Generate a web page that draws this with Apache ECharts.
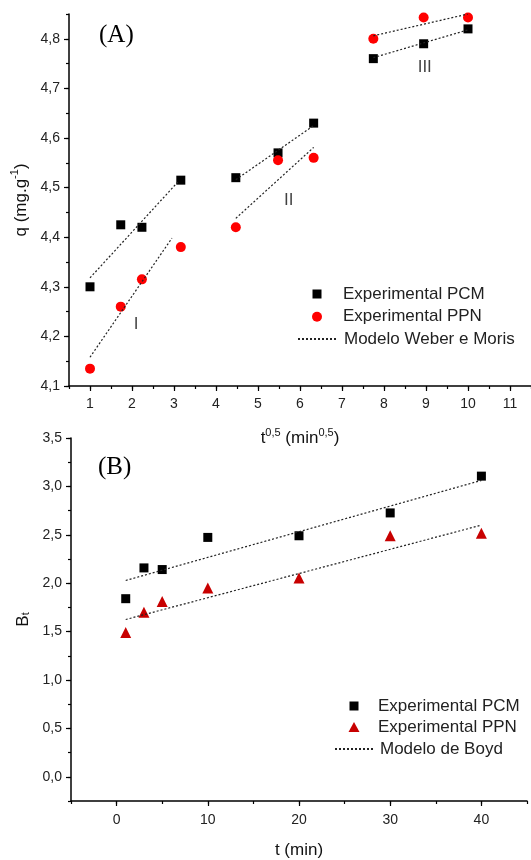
<!DOCTYPE html>
<html lang="pt">
    <head>
        <meta charset="utf-8" />
        <title>Cinética de adsorção</title>
        <script src="https://cdn.jsdelivr.net/npm/echarts@6/dist/echarts.min.js"></script>
        <style>
            body { margin: 0; background: #fff; }
            .chart { position: absolute; left: 0; top: 0; width: 531px; height: 860px; }
        </style>
    </head>
    <body>
    <div id="chartA" class="chart"></div>
    <div id="chartB" class="chart"></div>
    <script type="text/javascript">
        // (A) Weber e Moris: q vs t^0,5
        const sqrtT = [1, 1.732, 2.236, 3.162, 4.472, 5.477, 6.325, 7.746, 8.944, 10];
        const qPCM = [4.30, 4.425, 4.42, 4.515, 4.52, 4.57, 4.63, 4.76, 4.79, 4.82];
        const qPPN = [4.135, 4.26, 4.315, 4.38, 4.42, 4.555, 4.56, 4.80, 4.843, 4.843];
        // trechos lineares (I, II, III)
        const wmPCM = [[[1, 4.318], [3.1, 4.512]], [[4.472, 4.516], [6.325, 4.625]], [[7.746, 4.762], [10, 4.818]]];
        const wmPPN = [[[1, 4.158], [2.95, 4.398]], [[4.472, 4.438], [6.325, 4.581]], [[7.746, 4.806], [10, 4.85]]];
        const stageNames = ['I', 'II', 'III'];
        const stageX = [2.1, 5.73, 8.97];
        const stageY = [4.225, 4.474, 4.743];
        const xTicksA = [1, 2, 3, 4, 5, 6, 7, 8, 9, 10, 11];
        const yTicksA = [4.1, 4.2, 4.3, 4.4, 4.5, 4.6, 4.7, 4.8];

        // (B) Boyd: Bt vs t
        const tMin = [1, 3, 5, 10, 20, 30, 40];
        const btPCM = [1.84, 2.158, 2.141, 2.473, 2.49, 2.726, 3.106];
        const btPPN = [1.49, 1.70, 1.81, 1.95, 2.055, 2.49, 2.515];
        const boydPCM = [[1, 2.028], [40, 3.062]];
        const boydPPN = [[1, 1.625], [40, 2.60]];
        const xTicksB = [0, 10, 20, 30, 40];
        const yTicksB = [0, 0.5, 1, 1.5, 2, 2.5, 3, 3.5];

        const FONT = "'Liberation Sans', Arial, sans-serif";
        const comma1 = function (v) { return v.toFixed(1).replace('.', ','); };
        const nameRich = {
            n: {fontSize: 17, lineHeight: 20, verticalAlign: 'bottom', fontFamily: FONT, color: '#111'},
            sup: {fontSize: 11, lineHeight: 11, verticalAlign: 'top', fontFamily: FONT, color: '#111'},
            sub: {fontSize: 11, lineHeight: 11, verticalAlign: 'bottom', fontFamily: FONT, color: '#111'}
        };

        // eixo principal (ticks menores) + eixo sobreposto (ticks maiores)
        function axisPair(pos, min, max, interval, majors, fmt, extra) {
            const label = Object.assign({
                customValues: majors, formatter: fmt, fontSize: 14, color: '#222', fontFamily: FONT
            }, extra.axisLabel || {});
            const main = Object.assign({
                type: 'value', position: pos, min: min, max: max, interval: interval,
                axisLine: {onZero: false, lineStyle: {color: '#000', width: 1.5}},
                axisTick: {length: 3, lineStyle: {color: '#000', width: 1.2}},
                splitLine: {show: false}
            }, extra);
            main.axisLabel = label;
            const over = {
                type: 'value', position: pos, min: min, max: max,
                axisLine: {show: false, onZero: false},
                axisTick: {customValues: majors, length: 5, lineStyle: {color: '#000', width: 1.2}},
                axisLabel: {show: false},
                splitLine: {show: false}
            };
            return [main, over];
        }

        function fitSeries(name, segs) {
            return segs.map(function (seg) {
                return {
                    type: 'line', name: name, data: seg, symbol: 'circle', showSymbol: false, silent: true,
                    itemStyle: {color: 'transparent', borderWidth: 0},
                    lineStyle: {type: [2, 2], width: 1.2, color: '#222'}
                };
            });
        }

        // uma legenda por item, para posicionar cada linha
        function legendItem(name, left, top, w, h, pad) {
            return {
                orient: 'vertical', left: left, top: top, padding: 0,
                itemWidth: w, itemHeight: h,
                textStyle: {fontSize: 17, color: '#222', fontFamily: FONT, padding: [0, 0, 0, pad]},
                data: [name]
            };
        }

        // ---------- (A) ----------
        const chartA = echarts.init(document.getElementById('chartA'));
        const seriesA = [].concat(
            fitSeries('Modelo Weber e Moris', wmPCM),
            fitSeries('Modelo Weber e Moris', wmPPN),
            [{
                type: 'scatter', name: 'Experimental PCM', symbol: 'rect', symbolSize: 9,
                itemStyle: {color: '#000', opacity: 1},
                data: sqrtT.map(function (x, i) { return [x, qPCM[i]]; })
            }, {
                type: 'scatter', name: 'Experimental PPN', symbol: 'circle', symbolSize: 10,
                itemStyle: {color: '#ff0000', opacity: 1},
                data: sqrtT.map(function (x, i) { return [x, qPPN[i]]; })
            }, {
                type: 'scatter', name: 'etapas', symbolSize: 1, silent: true,
                itemStyle: {color: 'transparent'},
                label: {show: true, position: 'inside', formatter: '{b}', fontSize: 17, color: '#111', fontFamily: FONT},
                data: stageNames.map(function (n, i) { return {name: n, value: [stageX[i], stageY[i]]}; })
            }]
        );
        chartA.setOption({
            animation: false,
            title: {
                text: '(A)', left: 99, top: 23, padding: 0,
                textStyle: {fontFamily: "'Liberation Serif', 'Times New Roman', serif", fontSize: 25, fontWeight: 'normal', color: '#000'}
            },
            grid: {left: 69, right: 0, top: 14, height: 372},
            legend: [
                legendItem('Experimental PCM', 312.5, 285.5, 9, 9, 16.5),
                legendItem('Experimental PPN', 312, 308.2, 10, 10, 16),
                legendItem('Modelo Weber e Moris', 297, 330.5, 40, 9, 1)
            ],
            xAxis: axisPair('bottom', 0.5, 11.5, 0.5, xTicksA, function (v) { return String(v); }, {
                name: '{n|t}{sup|0,5}{n| (min}{sup|0,5}{n|)}', nameLocation: 'middle', nameGap: 41,
                nameTextStyle: {rich: nameRich},
                axisLabel: {margin: 11}
            }),
            yAxis: axisPair('left', 4.1, 4.85, 0.05, yTicksA, comma1, {
                name: '{n|q (mg.g}{sup|-1}{n|)}', nameLocation: 'middle', nameGap: 33,
                nameTextStyle: {rich: nameRich},
                axisLabel: {margin: 9}
            }),
            series: seriesA
        });

        // ---------- (B) ----------
        const chartB = echarts.init(document.getElementById('chartB'));
        const seriesB = [].concat(
            fitSeries('Modelo de Boyd', [boydPCM]),
            fitSeries('Modelo de Boyd', [boydPPN]),
            [{
                type: 'scatter', name: 'Experimental PCM', symbol: 'rect', symbolSize: 9,
                itemStyle: {color: '#000', opacity: 1},
                data: tMin.map(function (t, i) { return [t, btPCM[i]]; })
            }, {
                type: 'scatter', name: 'Experimental PPN', symbol: 'triangle', symbolSize: 11,
                itemStyle: {color: '#c80000', opacity: 1},
                data: tMin.map(function (t, i) { return [t, btPPN[i]]; })
            }]
        );
        chartB.setOption({
            animation: false,
            title: {
                text: '(B)', left: 98, top: 455, padding: 0,
                textStyle: {fontFamily: "'Liberation Serif', 'Times New Roman', serif", fontSize: 25, fontWeight: 'normal', color: '#000'}
            },
            grid: {left: 71, right: 4, top: 438, bottom: 56},
            legend: [
                legendItem('Experimental PCM', 349.5, 697.5, 9, 9, 14.5),
                legendItem('Experimental PPN', 348.5, 718.5, 11, 10, 13.5),
                legendItem('Modelo de Boyd', 334, 740.5, 40, 9, 0)
            ],
            xAxis: axisPair('bottom', -5, 45, 5, xTicksB, function (v) { return String(v); }, {
                name: 't (min)', nameLocation: 'middle', nameGap: 41,
                nameTextStyle: {fontSize: 17, color: '#111', fontFamily: FONT},
                axisLabel: {margin: 12}
            }),
            yAxis: axisPair('left', -0.25, 3.5, 0.25, yTicksB, comma1, {
                name: '{n|B}{sub|t}', nameLocation: 'middle', nameGap: 39,
                nameTextStyle: {rich: nameRich},
                axisLabel: {margin: 9}
            }),
            series: seriesB
        });
    </script>
    </body>
</html>
